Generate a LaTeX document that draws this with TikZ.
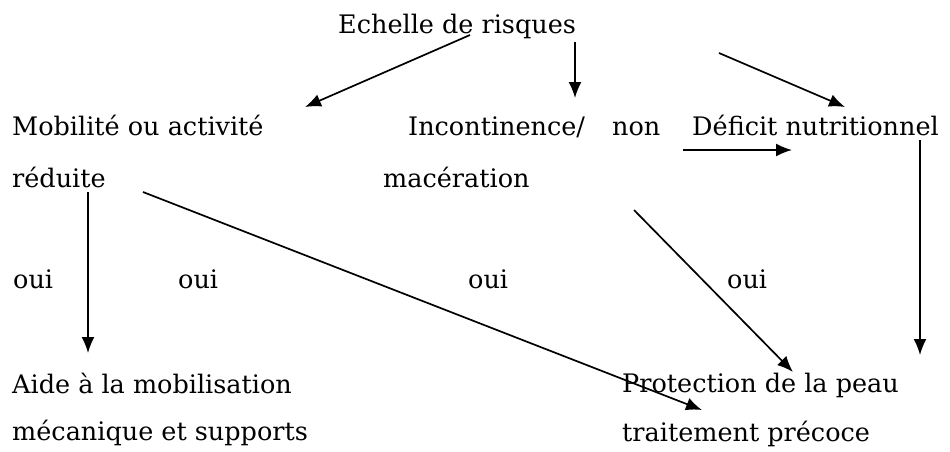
\documentclass[tikz,border=0pt]{standalone}
\usepackage{fontspec}
\setmainfont{DejaVu Serif}
\usetikzlibrary{arrows.meta}

\begin{document}
\begin{tikzpicture}[x=1pt,y=-1pt,
    txt/.style={anchor=base west,inner sep=0pt,font=\fontsize{25.5}{30}\selectfont},
    fleche/.style={line width=1.7pt,-{Latex[length=16pt,width=13pt]}}]

    \useasboundingbox (0,0) rectangle (950,451);

    % these are the texts
    \node[txt] (echelle) at (338,33) {Echelle de risques};
    \node[txt] (mobilite) at (12,135) {Mobilité ou activité};
    \node[txt] (reduite) at (12,187) {réduite};
    \node[txt] (incont) at (408,135) {Incontinence/};
    \node[txt] (non) at (612,135) {non};
    \node[txt] (maceration) at (383,187) {macération};
    \node[txt] (deficit) at (692,135) {Déficit nutritionnel};
    \node[txt] (oui1) at (13,288) {oui};
    \node[txt] (oui2) at (178,288) {oui};
    \node[txt] (oui3) at (468,288) {oui};
    \node[txt] (oui4) at (727,288) {oui};
    \node[txt] (aide) at (12,393) {Aide à la mobilisation};
    \node[txt] (mecanique) at (12,440) {mécanique et supports};
    \node[txt] (protection) at (622,392) {Protection de la peau};
    \node[txt] (traitement) at (622,441) {traitement précoce};

    % these are the ends of the arrows
    \coordinate (e1) at (470,35);
    \coordinate (m1) at (305,107);
    \coordinate (e2) at (575,42);
    \coordinate (i1) at (575,98);
    \coordinate (e3) at (719,53);
    \coordinate (d1) at (845,107);
    \coordinate (n1) at (683,150);
    \coordinate (d2) at (792,150);
    \coordinate (r1) at (88,192);
    \coordinate (a1) at (88,353);
    \coordinate (r2) at (143,192);
    \coordinate (t1) at (702,410);
    \coordinate (c1) at (634,210);
    \coordinate (p1) at (793,372);
    \coordinate (d3) at (920,140);
    \coordinate (p2) at (920,355);

    \draw[fleche] (e1) -- (m1);
    \draw[fleche] (e2) -- (i1);
    \draw[fleche] (e3) -- (d1);
    \draw[fleche] (n1) -- (d2);
    \draw[fleche] (r1) -- (a1);
    \draw[fleche] (r2) -- (t1);
    \draw[fleche] (c1) -- (p1);
    \draw[fleche] (d3) -- (p2);

\end{tikzpicture}
\end{document}
